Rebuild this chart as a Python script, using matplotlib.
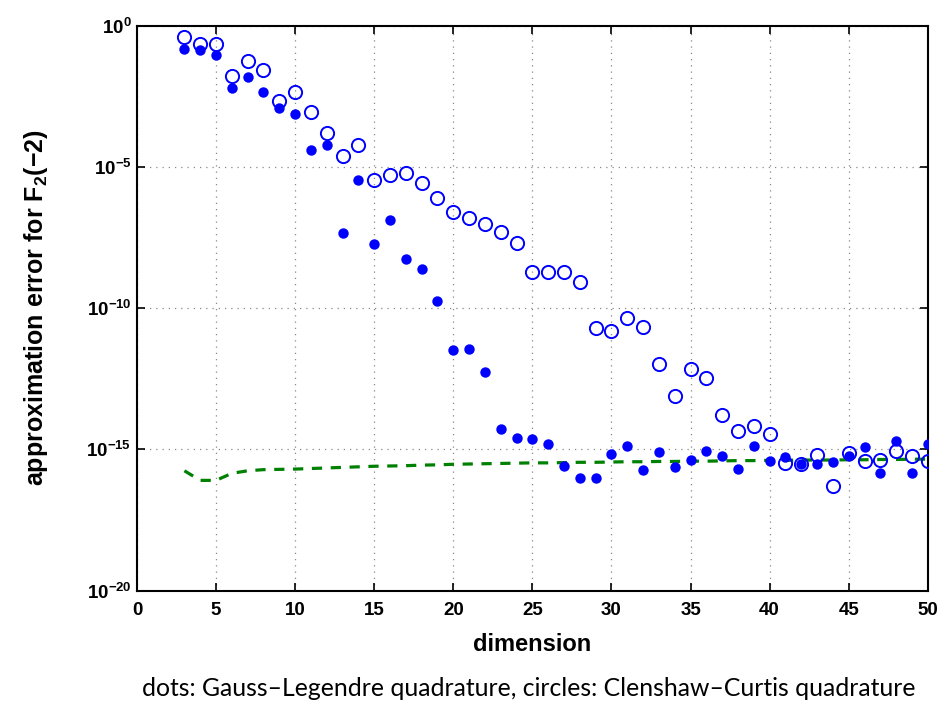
import numpy as np
import matplotlib
matplotlib.use("Agg")
import matplotlib.pyplot as plt
from matplotlib.ticker import FixedLocator, FuncFormatter, NullLocator

plt.rcParams['mathtext.fontset'] = 'custom'
plt.rcParams['mathtext.rm'] = 'Liberation Sans:bold'
plt.rcParams['mathtext.bf'] = 'Liberation Sans:bold'
plt.rcParams['mathtext.it'] = 'Liberation Sans:bold'

# dimensions 3..50
dims = list(range(3, 51))

# log10 of the error, Gauss-Legendre (dots)
gauss_log = [-0.83, -0.86, -1.03, -2.19, -1.82, -2.33, -2.92, -3.14, -4.41, -4.21,
             -7.33, -5.45, -7.72, -6.88, -8.26, -8.60, -9.75, -11.50, -11.46, -12.27,
             -14.29, -14.59, -14.65, -14.80, -15.60, -16.01, -16.01, -15.16, -14.88, -15.72,
             -15.08, -15.62, -15.37, -15.06, -15.23, -15.71, -14.87, -15.41, -15.28, -15.52,
             -15.53, -15.46, -15.25, -14.93, -15.84, -14.69, -15.84, -14.80]

# log10 of the error, Clenshaw-Curtis (circles)
clenshaw_log = [-0.41, -0.66, -0.65, -1.77, -1.24, -1.57, -2.67, -2.35, -3.05, -3.80,
                -4.62, -4.22, -5.45, -5.29, -5.23, -5.57, -6.10, -6.60, -6.81, -7.02,
                -7.29, -7.68, -8.73, -8.73, -8.73, -9.09, -10.70, -10.81, -10.35, -10.68,
                -11.99, -13.12, -12.14, -12.47, -13.77, -14.35, -14.16, -14.45, -15.47, -15.53,
                -15.19, -16.31, -15.12, -15.43, -15.37, -15.06, -15.25, -15.41]

# log10 of the reference (green dashed) curve
ref_log = [-15.76, -16.10, -16.10, -15.85, -15.76, -15.72, -15.71, -15.70, -15.68, -15.66,
           -15.64, -15.62, -15.60, -15.59, -15.58, -15.56, -15.55, -15.53, -15.52, -15.51,
           -15.50, -15.49, -15.48, -15.48, -15.47, -15.46, -15.46, -15.45, -15.44, -15.44,
           -15.43, -15.43, -15.42, -15.42, -15.41, -15.40, -15.40, -15.39, -15.39, -15.38,
           -15.38, -15.38, -15.37, -15.37, -15.36, -15.36, -15.35, -15.35]

x_ticks = [0, 5, 10, 15, 20, 25, 30, 35, 40, 45, 50]
y_ticks = [1e-20, 1e-15, 1e-10, 1e-5, 1e0]

gauss = np.power(10.0, gauss_log)
clenshaw = np.power(10.0, clenshaw_log)
ref = np.power(10.0, ref_log)

fig = plt.figure(figsize=(9.4, 7.05), dpi=100)
ax = fig.add_axes([0.1457, 0.1624, 0.8413, 0.8011])

ax.plot(dims, ref, color=(0, 0.5, 0), lw=2.3, dashes=(3.2, 2.7), zorder=2)
ax.plot(dims, gauss, 'o', color='blue', markersize=7.5, markeredgewidth=0, zorder=3)
ax.plot(dims, clenshaw, 'o', markerfacecolor='none', markeredgecolor='blue',
        markersize=9.5, markeredgewidth=1.4, zorder=4)

ax.set_yscale('log')
ax.set_xlim(0, 50)
ax.set_ylim(1e-20, 1e0)
ax.xaxis.set_major_locator(FixedLocator(x_ticks))
ax.yaxis.set_major_locator(FixedLocator(y_ticks))
ax.yaxis.set_minor_locator(NullLocator())


def log_label(v, pos):
    e = int(round(np.log10(v)))
    return r'$\mathbf{10^{%d}}$' % e if e >= 0 else r'$\mathbf{10^{-%d}}$' % (-e)


ax.yaxis.set_major_formatter(FuncFormatter(log_label))

ax.grid(True, which='major', color='#888888', linestyle=(0, (1, 4)), lw=0.9)
ax.tick_params(direction='in', length=6, width=1.2, top=True, right=True,
               labelsize=13.5)
ax.tick_params(axis='y', pad=4)
ax.tick_params(axis='x', pad=8)
for lab in ax.get_xticklabels():
    lab.set_fontweight('bold')
    lab.set_family('Liberation Sans')
for s in ax.spines.values():
    s.set_linewidth(1.5)

ax.set_xlabel('dimension', fontsize=17, fontweight='bold', family='Liberation Sans',
              labelpad=10)
ax.set_ylabel(r'approximation error for F$_{\mathbf{2}}$(−2)', fontsize=18,
              fontweight='bold', family='Liberation Sans', labelpad=26)

fig.text(0.562, 0.024, 'dots: Gauss–Legendre quadrature, circles: Clenshaw–Curtis quadrature',
         ha='center', va='center', fontsize=17.8, family='Lato')

fig.savefig('out.png', dpi=100)
